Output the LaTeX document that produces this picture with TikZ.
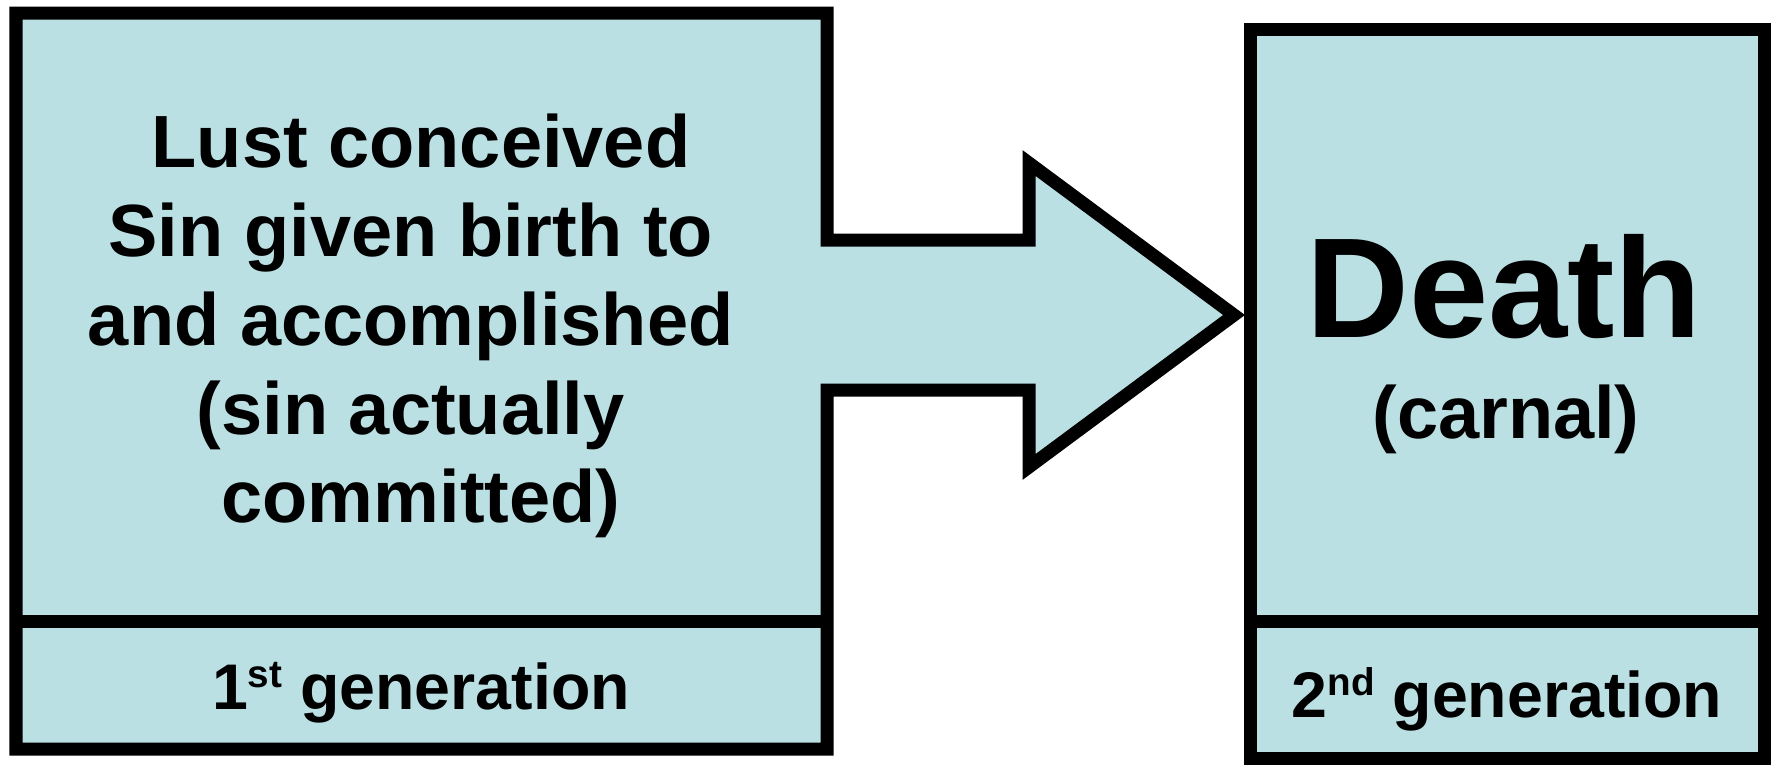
\documentclass[tikz,border=0pt]{standalone}
\usepackage{fontspec}
\setmainfont{Liberation Sans}
\definecolor{paleblue}{RGB}{187,224,227}
\newcommand{\gensup}[1]{\raisebox{0.33em}{\fontsize{22}{22}\selectfont #1}}
\newcommand{\trail}{\kern.278em}
\begin{document}
\begin{tikzpicture}[
    x=0.2mm, y=-0.2mm,
    panel/.style={
        draw,
        line width=7.4pt,
        fill=paleblue,
        miter limit=10
    },
    sep/.style={line width=7.4pt},
    bodytext/.style={
        font=\fontsize{42.1}{50.6}\selectfont\bfseries,
        align=center,
        inner sep=0pt
    },
    bigtext/.style={font=\fontsize{81}{90}\selectfont\bfseries, inner sep=0pt},
    gentext/.style={font=\fontsize{36.7}{44}\selectfont\bfseries, inner sep=0pt}
]
    \useasboundingbox (0,0) rectangle (1771,764);

    % first generation, joined with the block arrow
    \draw[panel] (16,13) -- (827,13) -- (827,240) -- (1029,240) -- (1029,163)
        -- (1234,315) -- (1029,467) -- (1029,390) -- (827,390)
        -- (827,749) -- (16,749) -- cycle;
    \draw[sep] (16,621) -- (827,621);

    % second generation
    \draw[panel] (1250,29) rectangle (1764,758);
    \draw[sep] (1250,621) -- (1764,621);

    \node[bodytext] (lust) at (421,326)
        {Lust conceived\\ Sin given birth to\trail\\ and accomplished\trail\\
         (sin actually\trail\\ committed)};
    \node[bigtext, anchor=base] (death) at (1504,337) {Death};
    \node[bodytext, anchor=base] (carnal) at (1506,438) {(carnal)};

    \node[gentext, anchor=base] (gen1) at (421,709) {1\gensup{st} generation};
    \node[gentext, anchor=base] (gen2) at (1507,717) {2\gensup{nd} generation};
\end{tikzpicture}
\end{document}
